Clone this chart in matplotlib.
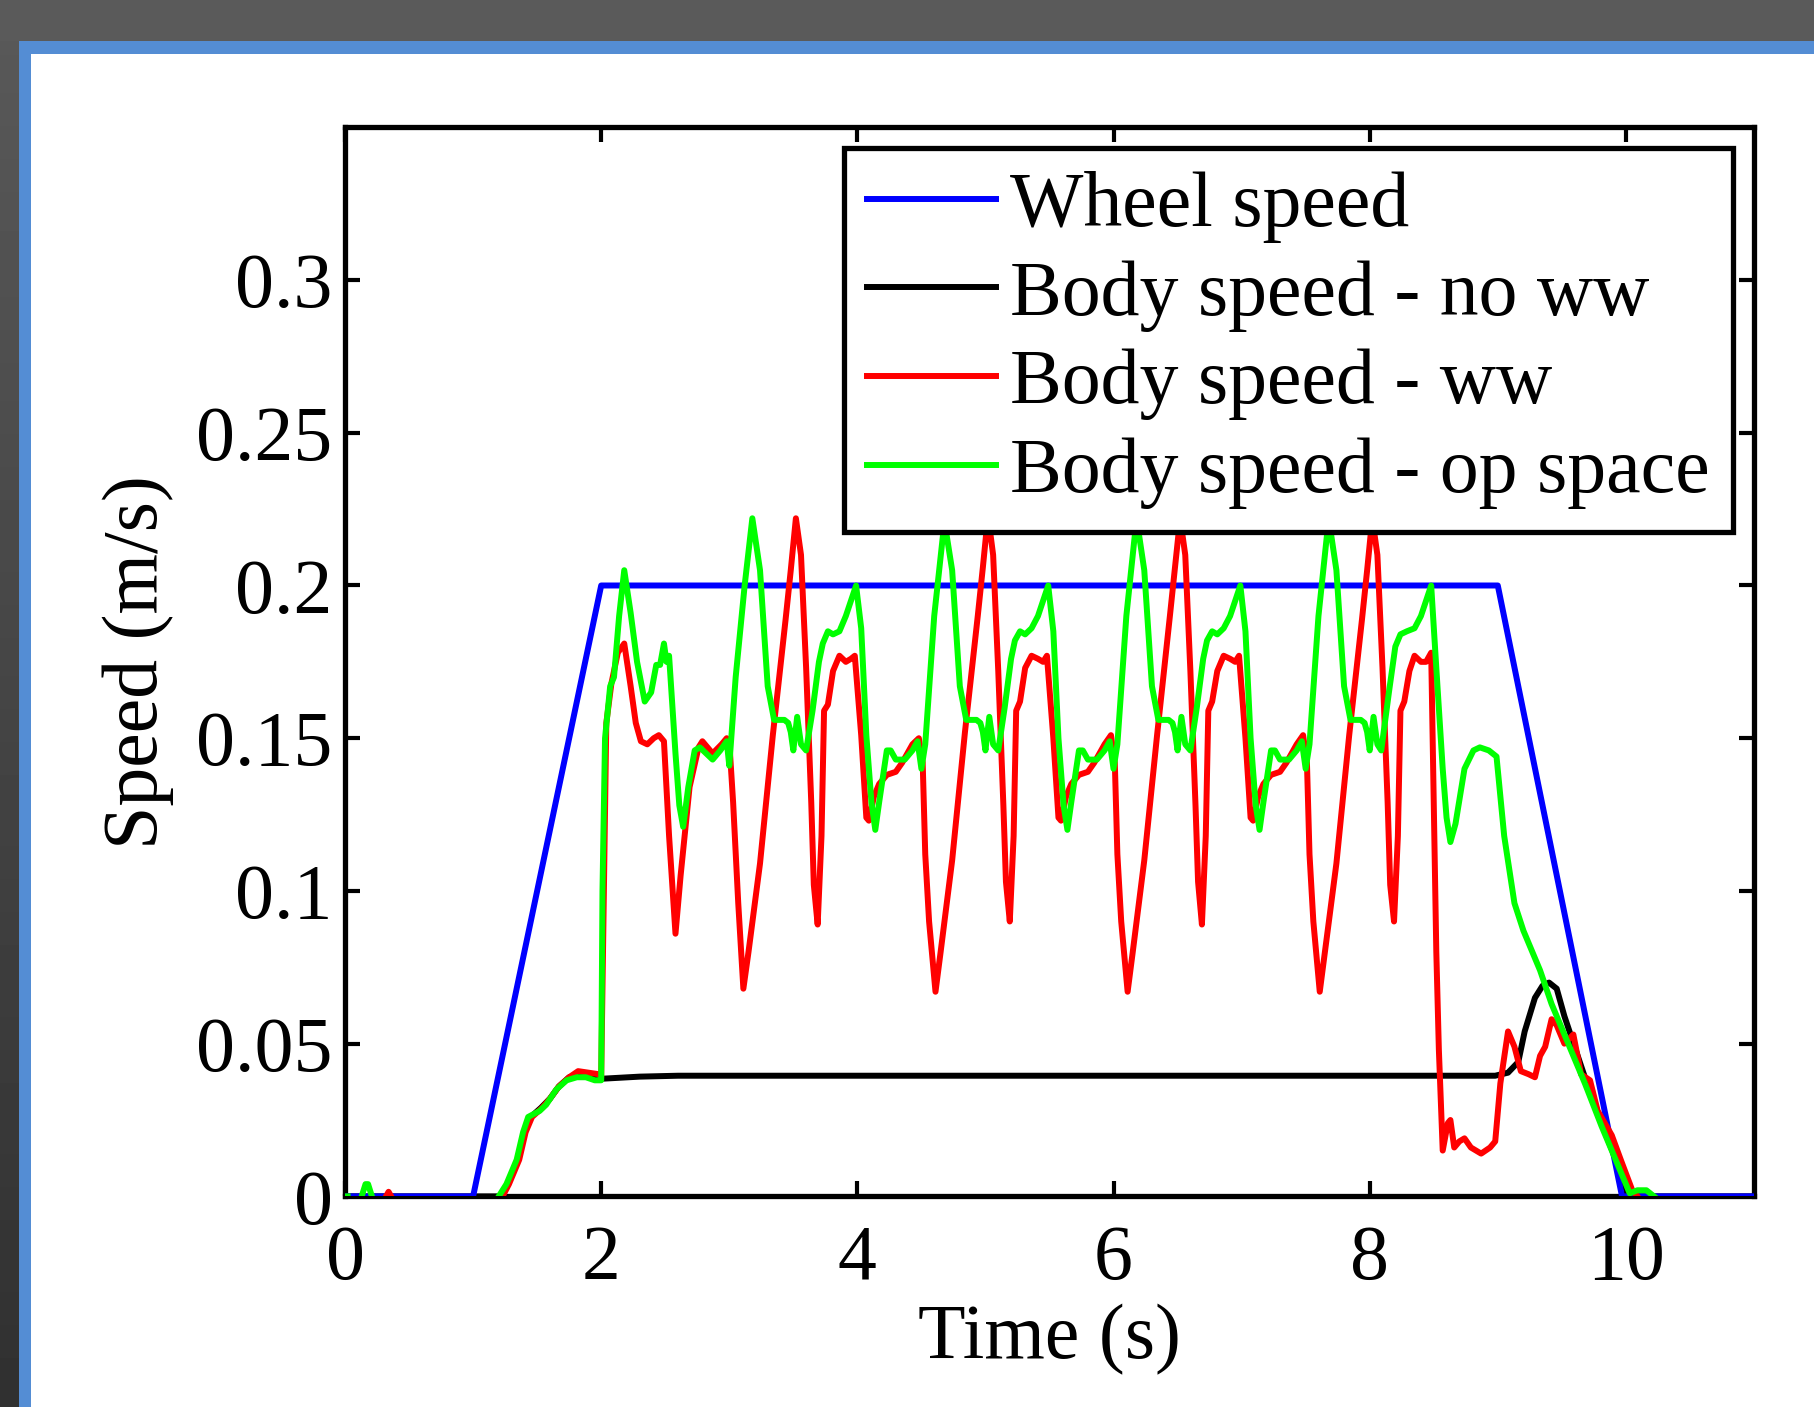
#!/usr/bin/env python3

"""
Wheel speed vs body speed (MATLAB-style figure inside a slide frame)
"""

import numpy as np
import matplotlib
matplotlib.use("Agg")
import matplotlib.pyplot as plt
from matplotlib.patches import Rectangle

# ---- data (time in s, speed in m/s) ----
wheel_t = [0.0, 1.0, 2.0, 9.0, 9.97, 11.0]
wheel_v = [0.0, 0.0, 0.2, 0.2, 0.0, 0.0]

noww_t = [0.0, 1.22, 1.27, 1.35, 1.40, 1.45, 1.53, 1.60, 1.67, 1.75,
          1.82, 1.90, 2.00, 2.30, 2.60, 8.98, 9.08, 9.16, 9.21, 9.29,
          9.35, 9.40, 9.46, 9.52, 9.60, 9.68, 9.81, 9.94, 10.02, 11.0]
noww_v = [0.0, 0.0, 0.004, 0.012, 0.021, 0.026, 0.029, 0.032, 0.036, 0.039,
          0.040, 0.040, 0.0385, 0.0392, 0.0395, 0.0395, 0.0405, 0.044, 0.054, 0.065,
          0.069, 0.070, 0.068, 0.059, 0.049, 0.039, 0.024, 0.010, 0.0, 0.0]

# body speed - ww (red)
ww_blip = [(0.32, 0.0), (0.34, 0.0015), (0.36, 0.0)]
ww_rise = [(1.23, 0.0), (1.28, 0.004), (1.36, 0.012), (1.41, 0.021), (1.46, 0.026),
           (1.54, 0.029), (1.60, 0.032), (1.67, 0.036), (1.75, 0.039), (1.82, 0.041),
           (1.90, 0.0405), (1.98, 0.040), (2.00, 0.039)]
ww_first = [(2.04, 0.155), (2.08, 0.168), (2.13, 0.178), (2.18, 0.181), (2.23, 0.167),
            (2.27, 0.155), (2.31, 0.149), (2.36, 0.148), (2.41, 0.150), (2.45, 0.151),
            (2.49, 0.149), (2.53, 0.118), (2.58, 0.086), (2.62, 0.105), (2.69, 0.134),
            (2.76, 0.147), (2.79, 0.149), (2.87, 0.145), (2.94, 0.148), (2.98, 0.150),
            (3.00, 0.149), (3.03, 0.129), (3.07, 0.096), (3.11, 0.068)]
ww_cycle1 = [(3.15, 0.080), (3.24, 0.109), (3.34, 0.151), (3.44, 0.189), (3.48, 0.205),
             (3.52, 0.222), (3.56, 0.210), (3.60, 0.173), (3.64, 0.129), (3.66, 0.102),
             (3.69, 0.089), (3.72, 0.118), (3.74, 0.159), (3.77, 0.161), (3.81, 0.172),
             (3.86, 0.177), (3.91, 0.175), (3.95, 0.176), (3.98, 0.177), (4.03, 0.151),
             (4.07, 0.124), (4.09, 0.123), (4.13, 0.131), (4.17, 0.135), (4.23, 0.138),
             (4.30, 0.139), (4.35, 0.142), (4.43, 0.148), (4.48, 0.150), (4.51, 0.142),
             (4.53, 0.112), (4.56, 0.090), (4.61, 0.067)]
ww_cycle2 = [(4.65, 0.080), (4.74, 0.110), (4.84, 0.152), (4.94, 0.190), (4.98, 0.206),
             (5.02, 0.223), (5.06, 0.210), (5.10, 0.172), (5.14, 0.128), (5.16, 0.103),
             (5.19, 0.090), (5.22, 0.118), (5.24, 0.159), (5.27, 0.162), (5.31, 0.173),
             (5.36, 0.177), (5.41, 0.176), (5.45, 0.175), (5.48, 0.177), (5.53, 0.150),
             (5.57, 0.124), (5.59, 0.123), (5.63, 0.131), (5.67, 0.135), (5.73, 0.138),
             (5.80, 0.139), (5.85, 0.142), (5.93, 0.148), (5.98, 0.151), (6.01, 0.142),
             (6.03, 0.112), (6.06, 0.090), (6.11, 0.067)]
ww_cycle3 = [(6.15, 0.080), (6.24, 0.110), (6.34, 0.151), (6.44, 0.190), (6.48, 0.206),
             (6.52, 0.222), (6.56, 0.210), (6.60, 0.172), (6.64, 0.128), (6.66, 0.103),
             (6.69, 0.089), (6.72, 0.118), (6.74, 0.159), (6.77, 0.162), (6.81, 0.172),
             (6.86, 0.177), (6.91, 0.176), (6.95, 0.175), (6.98, 0.177), (7.03, 0.150),
             (7.07, 0.124), (7.09, 0.123), (7.13, 0.131), (7.17, 0.135), (7.23, 0.138),
             (7.30, 0.139), (7.35, 0.142), (7.43, 0.148), (7.48, 0.151), (7.51, 0.142),
             (7.53, 0.112), (7.56, 0.090), (7.61, 0.067)]
ww_end = [(7.65, 0.080), (7.74, 0.109), (7.84, 0.151), (7.94, 0.189), (7.98, 0.205),
          (8.02, 0.222), (8.06, 0.210), (8.10, 0.173), (8.14, 0.129), (8.16, 0.102),
          (8.19, 0.090), (8.22, 0.118), (8.24, 0.159), (8.27, 0.162), (8.31, 0.172),
          (8.35, 0.177), (8.40, 0.175), (8.44, 0.175), (8.48, 0.178), (8.50, 0.130),
          (8.52, 0.080), (8.54, 0.048), (8.57, 0.015), (8.61, 0.024), (8.63, 0.025),
          (8.66, 0.016), (8.70, 0.018), (8.74, 0.019), (8.79, 0.016), (8.87, 0.014),
          (8.94, 0.016), (8.98, 0.018), (9.02, 0.037), (9.08, 0.054), (9.13, 0.049),
          (9.18, 0.041), (9.24, 0.040), (9.29, 0.039), (9.33, 0.046), (9.37, 0.049),
          (9.42, 0.058), (9.46, 0.056), (9.52, 0.050), (9.59, 0.053), (9.65, 0.040),
          (9.72, 0.038), (9.78, 0.028), (9.89, 0.020), (9.96, 0.012), (10.05, 0.002),
          (10.09, 0.0)]

# body speed - op space (green)
op_dot = [(0.0, 0.0), (0.02, 0.0)]
op_blip = [(0.13, 0.0), (0.16, 0.004), (0.18, 0.004), (0.21, 0.0)]
op_rise = [(1.20, 0.0), (1.26, 0.004), (1.34, 0.012), (1.39, 0.021), (1.43, 0.026),
           (1.52, 0.028), (1.57, 0.030), (1.65, 0.035), (1.73, 0.038), (1.81, 0.039),
           (1.88, 0.039), (1.95, 0.038), (2.00, 0.038)]
op_first = [(2.01, 0.100), (2.03, 0.150), (2.07, 0.167), (2.10, 0.170), (2.14, 0.190),
            (2.18, 0.205), (2.23, 0.191), (2.28, 0.175), (2.34, 0.162), (2.39, 0.165),
            (2.43, 0.174), (2.46, 0.174), (2.49, 0.181), (2.51, 0.175), (2.53, 0.177),
            (2.58, 0.145), (2.61, 0.128), (2.64, 0.121), (2.68, 0.134), (2.73, 0.146),
            (2.77, 0.147), (2.82, 0.145), (2.87, 0.143), (2.93, 0.146), (2.98, 0.149),
            (3.00, 0.141), (3.05, 0.170), (3.12, 0.200), (3.18, 0.222)]
op_cycle1 = [(3.24, 0.205), (3.30, 0.167), (3.35, 0.156), (3.43, 0.156), (3.46, 0.155),
             (3.48, 0.152), (3.50, 0.146), (3.53, 0.157), (3.56, 0.148), (3.60, 0.146),
             (3.65, 0.159), (3.70, 0.175), (3.73, 0.181), (3.77, 0.185), (3.81, 0.184),
             (3.86, 0.185), (3.91, 0.190), (3.95, 0.195), (3.99, 0.200), (4.03, 0.186),
             (4.07, 0.151), (4.11, 0.129), (4.14, 0.120), (4.17, 0.129), (4.23, 0.146),
             (4.26, 0.146), (4.30, 0.143), (4.37, 0.143), (4.43, 0.146), (4.47, 0.149),
             (4.50, 0.140), (4.53, 0.148), (4.60, 0.190), (4.68, 0.221)]
op_cycle2 = [(4.74, 0.205), (4.80, 0.167), (4.85, 0.156), (4.93, 0.156), (4.96, 0.155),
             (4.98, 0.152), (5.00, 0.146), (5.03, 0.157), (5.06, 0.148), (5.10, 0.146),
             (5.15, 0.160), (5.20, 0.176), (5.23, 0.182), (5.27, 0.185), (5.31, 0.184),
             (5.36, 0.186), (5.41, 0.190), (5.45, 0.195), (5.49, 0.200), (5.53, 0.185),
             (5.57, 0.150), (5.61, 0.128), (5.64, 0.120), (5.67, 0.129), (5.73, 0.146),
             (5.76, 0.146), (5.80, 0.143), (5.87, 0.143), (5.93, 0.146), (5.97, 0.149),
             (6.00, 0.140), (6.03, 0.148), (6.10, 0.190), (6.18, 0.222)]
op_cycle3 = [(6.24, 0.205), (6.30, 0.167), (6.35, 0.156), (6.43, 0.156), (6.46, 0.155),
             (6.48, 0.152), (6.50, 0.146), (6.53, 0.157), (6.56, 0.148), (6.60, 0.146),
             (6.65, 0.160), (6.70, 0.176), (6.73, 0.182), (6.77, 0.185), (6.81, 0.184),
             (6.86, 0.186), (6.91, 0.190), (6.95, 0.195), (6.99, 0.200), (7.03, 0.185),
             (7.07, 0.150), (7.11, 0.128), (7.14, 0.120), (7.17, 0.129), (7.23, 0.146),
             (7.26, 0.146), (7.30, 0.143), (7.37, 0.143), (7.43, 0.146), (7.47, 0.149),
             (7.50, 0.140), (7.53, 0.148), (7.60, 0.190), (7.68, 0.222)]
op_end = [(7.74, 0.205), (7.80, 0.167), (7.85, 0.156), (7.93, 0.156), (7.96, 0.155),
          (7.98, 0.152), (8.00, 0.146), (8.03, 0.157), (8.06, 0.148), (8.09, 0.146),
          (8.15, 0.165), (8.20, 0.180), (8.24, 0.184), (8.29, 0.185), (8.35, 0.186),
          (8.40, 0.190), (8.44, 0.195), (8.48, 0.200), (8.52, 0.173), (8.57, 0.140),
          (8.60, 0.124), (8.63, 0.116), (8.67, 0.122), (8.74, 0.140), (8.81, 0.146),
          (8.86, 0.147), (8.93, 0.146), (8.99, 0.144), (9.05, 0.118), (9.13, 0.096),
          (9.20, 0.087), (9.27, 0.080), (9.33, 0.074), (9.42, 0.063), (9.55, 0.050),
          (9.68, 0.037), (9.81, 0.023), (9.94, 0.010), (10.03, 0.001), (10.09, 0.002),
          (10.16, 0.002), (10.22, 0.0)]

labels = ["Wheel speed", "Body speed - no ww", "Body speed - ww", "Body speed - op space"]
yticks = [0, 0.05, 0.1, 0.15, 0.2, 0.25, 0.3]
ytick_labels = ["0", "0.05", "0.1", "0.15", "0.2", "0.25", "0.3"]
xticks = [0, 2, 4, 6, 8, 10]


def series(*parts):
    # join point lists, leaving a gap (NaN) between them
    t, v = [], []
    for i, part in enumerate(parts):
        if i:
            t.append(np.nan)
            v.append(np.nan)
        t += [p[0] for p in part]
        v += [p[1] for p in part]
    return np.array(t), np.array(v)


ww_t, ww_v = series(ww_blip, ww_rise + ww_first + ww_cycle1 + ww_cycle2 + ww_cycle3 + ww_end)
op_t, op_v = series(op_dot, op_blip,
                    op_rise + op_first + op_cycle1 + op_cycle2 + op_cycle3 + op_end)

plt.rcParams["font.family"] = ["Liberation Serif", "DejaVu Serif"]

W, H = 1814, 1407
fig = plt.figure(figsize=(W / 100, H / 100), dpi=100, facecolor="white")

# slide frame around the figure
bg = fig.add_axes([0, 0, 1, 1], zorder=-10)
bg.set_xlim(0, W)
bg.set_ylim(H, 0)
bg.axis("off")
grad = np.linspace(0.35, 0.19, 256).reshape(-1, 1)
bg.imshow(grad, cmap="gray", vmin=0, vmax=1, extent=(0, 20, H, 0), aspect="auto")
bg.add_patch(Rectangle((0, 0), W, 41, color="#5a5a5a", lw=0))
bg.add_patch(Rectangle((19, 41), W - 19, 13, color="#548dd4", lw=0))
bg.add_patch(Rectangle((19, 41), 12, H - 41, color="#548dd4", lw=0))

ax = fig.add_axes([0.1902, 0.1497, 0.7767, 0.7598])

lw = 4.3
l_noww, = ax.plot(noww_t, noww_v, color="black", lw=lw, zorder=2)
l_wheel, = ax.plot(wheel_t, wheel_v, color="#0000ff", lw=lw, zorder=2.1)
l_ww, = ax.plot(ww_t, ww_v, color="#ff0000", lw=lw, zorder=2.2)
l_op, = ax.plot(op_t, op_v, color="#00ff00", lw=lw, zorder=2.3)
for ln in (l_noww, l_wheel, l_ww, l_op):
    ln.set_solid_joinstyle("round")

ax.set_xlim(0, 11)
ax.set_ylim(0, 0.35)
ax.set_xticks(xticks)
ax.set_yticks(yticks)
ax.set_yticklabels(ytick_labels)
ax.tick_params(direction="in", length=11, width=3, top=True, right=True,
               labelsize=56, colors="black")
ax.tick_params(axis="x", pad=20)
ax.tick_params(axis="y", pad=9)
for sp in ax.spines.values():
    sp.set_linewidth(3.8)
    sp.set_zorder(1.9)  # lines lying on zero sit on top of the box

ax.set_xlabel("Time (s)", fontsize=56, labelpad=6)
ax.set_ylabel("Speed (m/s)", fontsize=56, labelpad=16)

leg = ax.legend([l_wheel, l_noww, l_ww, l_op], labels, loc="upper right",
                bbox_to_anchor=(0.985, 0.981), borderaxespad=0, fontsize=56,
                fancybox=False, framealpha=1, edgecolor="black",
                handlelength=1.65, handletextpad=0.18, labelspacing=0.22,
                borderpad=0.3)
leg.get_frame().set_linewidth(3.8)
leg.set_zorder(5)

fig.savefig("out.png", dpi=100, facecolor="white")
